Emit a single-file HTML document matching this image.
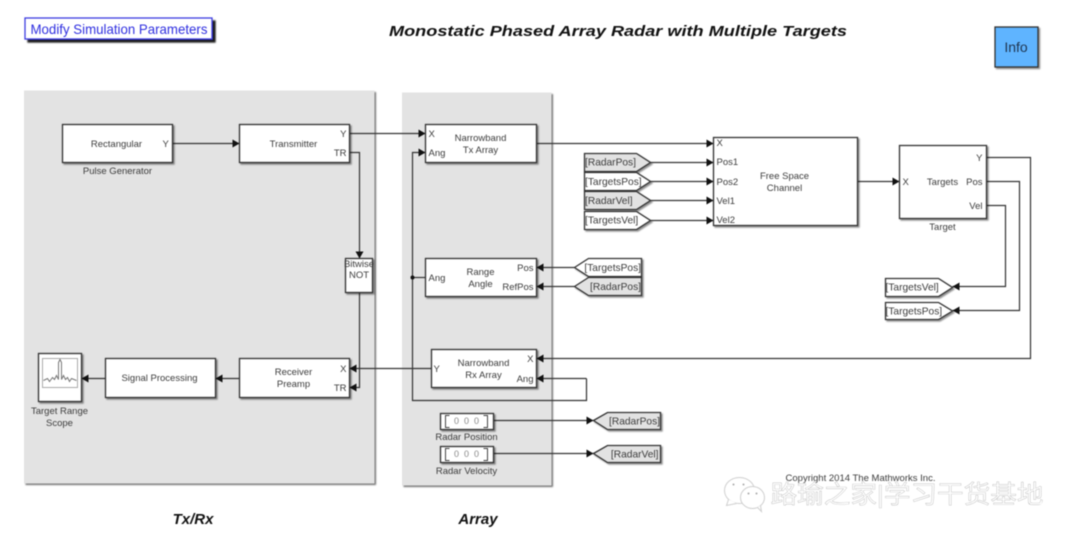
<!DOCTYPE html>
<html><head><meta charset="utf-8"><title>Monostatic Phased Array Radar</title>
<style>
html,body{margin:0;padding:0;background:#fff;width:1080px;height:542px;overflow:hidden}
svg{display:block;filter:blur(0.5px)}
text{font-family:"Liberation Sans",sans-serif;font-size:9.5px;fill:#3c3c3c;transform:translateY(-0.5px)}
.m{text-anchor:middle}.e{text-anchor:end}
.k{font-size:10.2px}
.b{fill:#fff;stroke:#333;stroke-width:1.3;filter:url(#s)}
.g{fill:#e2e2e2;stroke:#333;stroke-width:1.3;filter:url(#s)}
.w{fill:none;stroke:#333;stroke-width:1.2}
.p{fill:#e3e3e3;filter:url(#ps)}
.t{font-weight:bold;font-style:italic;fill:#111}
</style></head><body>
<svg width="1080" height="542" viewBox="-0.5 -0.5 1080 542" xmlns="http://www.w3.org/2000/svg">
<defs>
<filter id="s" x="-20%" y="-20%" width="140%" height="140%"><feDropShadow dx="1.5" dy="1.5" stdDeviation="0.8" flood-color="#000" flood-opacity=".45"/></filter>
<filter id="ps" x="-5%" y="-5%" width="110%" height="110%"><feDropShadow dx="1.5" dy="1.5" stdDeviation="0.9" flood-color="#000" flood-opacity=".55"/></filter>
<filter id="sh" x="-20%" y="-60%" width="140%" height="240%"><feDropShadow dx="3" dy="3" stdDeviation="0.9" flood-color="#000" flood-opacity=".9"/></filter>
<marker id="a" markerUnits="userSpaceOnUse" markerWidth="8" markerHeight="8" refX="7" refY="4" orient="auto"><path d="M0,0 L7,4 L0,8 Z" fill="#111"/></marker>
</defs>

<!-- panels -->
<rect class="p" x="23.500" y="90" width="350.500" height="393"/>
<rect class="p" x="401.500" y="92" width="149.500" height="393"/>

<!-- header -->
<rect x="24.500" y="17.500" width="187" height="21" fill="#fff" stroke="#3c3ce0" stroke-width="1.3" filter="url(#sh)"/>
<text x="30" y="34" style="font-size:14px;fill:#2f2fe0" textLength="177" lengthAdjust="spacingAndGlyphs">Modify Simulation Parameters</text>
<text class="t" x="388.500" y="36" style="font-size:15px" textLength="458" lengthAdjust="spacingAndGlyphs">Monostatic Phased Array Radar with Multiple Targets</text>
<rect x="994.500" y="26.500" width="43" height="40" fill="#5eb4ff" stroke="#333" stroke-width="1.3" filter="url(#s)"/>
<text class="m" x="1015.500" y="52" style="font-size:14px;fill:#1f3550">Info</text>

<!-- wires -->
<path class="w" d="M172 143H239" marker-end="url(#a)"/>
<path class="w" d="M349 133H425" marker-end="url(#a)"/>
<path class="w" d="M349 152H359V258" marker-end="url(#a)"/>
<path class="w" d="M359 292V387H349" marker-end="url(#a)"/>
<path class="w" d="M431 368H349" marker-end="url(#a)"/>
<path class="w" d="M239 378H215" marker-end="url(#a)"/>
<path class="w" d="M105 378H81" marker-end="url(#a)"/>
<path class="w" d="M586 378H536" marker-end="url(#a)"/>
<path class="w" d="M586 378V400H412V152H425" marker-end="url(#a)"/>
<path class="w" d="M412 277H425"/>
<circle cx="412" cy="277" r="2" fill="#111"/>
<path class="w" d="M536 143H713" marker-end="url(#a)"/>
<path class="w" d="M650 162H713" marker-end="url(#a)"/>
<path class="w" d="M650 181H713" marker-end="url(#a)"/>
<path class="w" d="M650 200H713" marker-end="url(#a)"/>
<path class="w" d="M650 220H713" marker-end="url(#a)"/>
<path class="w" d="M574 267H536" marker-end="url(#a)"/>
<path class="w" d="M574 286H536" marker-end="url(#a)"/>
<path class="w" d="M857 181H899" marker-end="url(#a)"/>
<path class="w" d="M986 157H1030V358H536" marker-end="url(#a)"/>
<path class="w" d="M986 181H1019V310H952" marker-end="url(#a)"/>
<path class="w" d="M986 205H1005V286H952" marker-end="url(#a)"/>
<path class="w" d="M493 420H593" marker-end="url(#a)"/>
<path class="w" d="M493 453H593" marker-end="url(#a)"/>

<!-- Tx/Rx blocks -->
<rect class="b" x="62" y="124" width="110" height="38"/>
<text class="m" x="116" y="147">Rectangular</text>
<text x="162" y="147">Y</text>
<text class="m" x="117" y="174">Pulse Generator</text>

<rect class="b" x="239" y="124" width="110" height="38"/>
<text class="m" x="293" y="147">Transmitter</text>
<text class="e" x="346" y="137">Y</text>
<text class="e" x="346" y="156">TR</text>

<rect class="b" x="345" y="258" width="27" height="34"/>
<text class="m" x="358.500" y="267">Bitwise</text>
<text class="m" x="358.500" y="278">NOT</text>

<rect class="b" x="239" y="358" width="110" height="39"/>
<text class="m" x="293" y="375">Receiver</text>
<text class="m" x="293" y="387">Preamp</text>
<text class="e" x="346" y="372">X</text>
<text class="e" x="346" y="391">TR</text>

<rect class="b" x="105" y="358" width="110" height="39"/>
<text class="m" x="159" y="381">Signal Processing</text>

<rect class="b" x="38" y="353" width="43" height="48"/>
<rect x="42" y="358" width="35" height="29" fill="#fff" stroke="#aaa" stroke-width="1"/>
<path d="M43 380L47 378L49 381L52 377L54 379L56 375L58 379L58 362L59.500 359L61 362L61 379L63 375L65 379L67 377L69 381L71 378L76 380" fill="none" stroke="#777" stroke-width="1"/>
<text class="m" x="59" y="414">Target Range</text>
<text class="m" x="59" y="426">Scope</text>

<!-- Array blocks -->
<rect class="b" x="425" y="124" width="111" height="38"/>
<text x="428" y="137">X</text><text x="428" y="156">Ang</text>
<text class="m" x="480" y="141">Narrowband</text>
<text class="m" x="480" y="153">Tx Array</text>

<rect class="b" x="425" y="258" width="111" height="38"/>
<text x="428" y="281">Ang</text>
<text class="m" x="480" y="275">Range</text>
<text class="m" x="480" y="287">Angle</text>
<text class="e" x="533" y="271">Pos</text>
<text class="e" x="533" y="290">RefPos</text>

<rect class="b" x="431" y="349" width="105" height="38"/>
<text x="433" y="372">Y</text>
<text class="m" x="483" y="366">Narrowband</text>
<text class="m" x="483" y="378">Rx Array</text>
<text class="e" x="533" y="362">X</text>
<text class="e" x="533" y="382">Ang</text>

<rect class="b" x="440" y="413" width="53" height="16"/>
<path d="M449 415H445V427H449M483 415H487V427H483" fill="none" stroke="#444" stroke-width="1"/>
<text class="m" x="466" y="424" style="fill:#888;font-size:9px">0&#160;&#160;0&#160;&#160;0</text>
<text class="m" x="466" y="440">Radar Position</text>

<rect class="b" x="440" y="446" width="53" height="16"/>
<path d="M449 448H445V460H449M483 448H487V460H483" fill="none" stroke="#444" stroke-width="1"/>
<text class="m" x="466" y="457" style="fill:#888;font-size:9px">0&#160;&#160;0&#160;&#160;0</text>
<text class="m" x="466" y="474">Radar Velocity</text>

<!-- tags -->
<path class="g" d="M584 153H636L650 162L636 171H584Z"/>
<text class="k" x="584.500" y="165.500">[RadarPos]</text>
<path class="b" d="M584 172H636L650 181L636 190H584Z"/>
<text class="k" x="584.500" y="185">[TargetsPos]</text>
<path class="g" d="M584 191H636L650 200L636 209H584Z"/>
<text class="k" x="584.500" y="204">[RadarVel]</text>
<path class="b" d="M584 211H636L650 220L636 229H584Z"/>
<text class="k" x="584.500" y="223.500">[TargetsVel]</text>

<path class="b" d="M574 267L588 258H641V276H588Z"/>
<text class="k e" x="640.500" y="271">[TargetsPos]</text>
<path class="g" d="M574 286L588 277H641V295H588Z"/>
<text class="k e" x="640.500" y="290">[RadarPos]</text>

<path class="g" d="M593 420L607 412H660V429H607Z"/>
<text class="k e" x="659.500" y="424.500">[RadarPos]</text>
<path class="g" d="M593 453L607 445H660V462H607Z"/>
<text class="k e" x="658" y="457.500">[RadarVel]</text>

<path class="b" d="M885 278H938L952 287L938 296H885Z"/>
<text class="k" x="885" y="290.500">[TargetsVel]</text>
<path class="b" d="M885 302H938L952 310.500L938 319H885Z"/>
<text class="k" x="885" y="314.500">[TargetsPos]</text>

<!-- right blocks -->
<rect class="b" x="713" y="137" width="144" height="88"/>
<text x="716" y="146">X</text>
<text x="716" y="165">Pos1</text>
<text x="716" y="185">Pos2</text>
<text x="716" y="204">Vel1</text>
<text x="716" y="223">Vel2</text>
<text class="m" x="784" y="179">Free Space</text>
<text class="m" x="784" y="191">Channel</text>

<rect class="b" x="899" y="145" width="87" height="73"/>
<text x="902" y="185">X</text>
<text class="m" x="942" y="185">Targets</text>
<text class="e" x="982" y="161">Y</text>
<text class="e" x="982" y="185">Pos</text>
<text class="e" x="982" y="209">Vel</text>
<text class="m" x="942" y="230">Target</text>

<!-- group labels -->
<text class="t m" x="192.500" y="524" style="font-size:15px">Tx/Rx</text>
<text class="t m" x="477.500" y="524" style="font-size:15px">Array</text>
<text class="m" x="860" y="481" style="font-size:9px" textLength="150" lengthAdjust="spacingAndGlyphs">Copyright 2014 The Mathworks Inc.</text>

<!-- watermark -->
<g fill="#fff" stroke="#cfcfcf" stroke-width="1">
<ellipse cx="739" cy="490" rx="15" ry="13"/>
<path d="M728 499L726 505L736 503" />
<ellipse cx="752" cy="497" rx="12" ry="11"/>
<path d="M757 507L761 511L760 505"/>
</g>
<circle cx="733" cy="484" r="1" fill="#aaa"/><circle cx="743" cy="484" r="1" fill="#aaa"/>
<circle cx="748" cy="493" r="1" fill="#aaa"/><circle cx="756" cy="493" r="1" fill="#aaa"/>
<text x="770" y="503" style='font-family:"Liberation Sans","Noto Sans CJK SC",sans-serif;font-size:25px;fill:#fff;stroke:#b0b0b0;stroke-width:.35' textLength="273" lengthAdjust="spacingAndGlyphs">路瑜之家|学习干货基地</text>
</svg>
</body></html>
